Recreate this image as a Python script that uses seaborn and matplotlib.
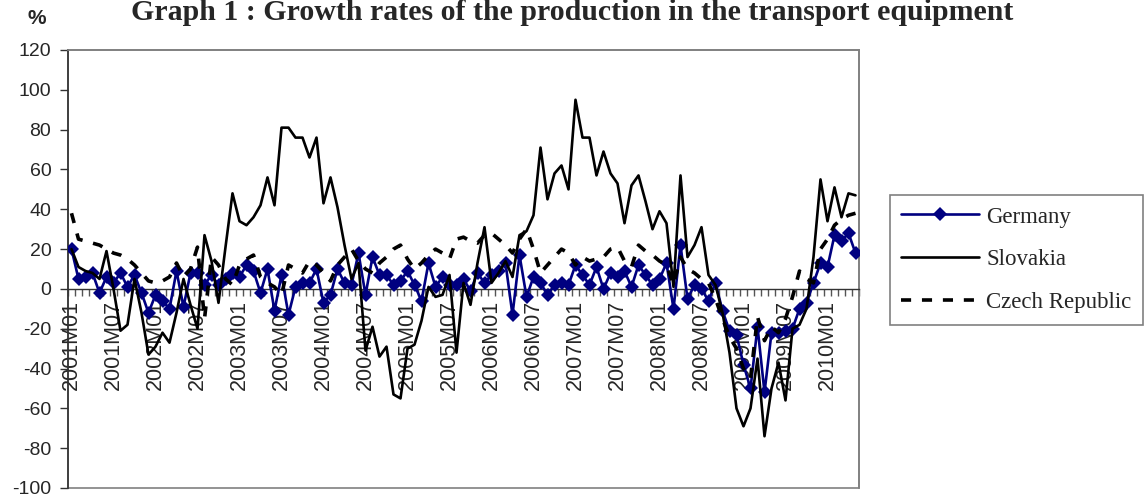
import numpy as np
import pandas as pd
import matplotlib
matplotlib.use("agg")
import matplotlib.pyplot as plt
from matplotlib.patches import Rectangle
import seaborn as sns

# monthly categories 2001M01 .. 2010M05
months = [f"{y}M{m:02d}" for y in range(2001, 2011) for m in range(1, 13)][:113]

germany = [20, 5, 6, 8, -2, 6, 3, 8, 1, 7, -2, -12, -3, -6, -10, 9, -9, 8, 8, 2,
           7, 2, 5, 8, 6, 12, 9, -2, 10, -11, 7, -13, 1, 3, 3, 10, -7, -3, 10, 3,
           2, 18, -3, 16, 7, 7, 2, 4, 9, 2, -6, 13, 1, 6, 2, 2, 5, -1, 8, 3,
           7, 9, 13, -13, 17, -4, 6, 3, -3, 2, 3, 2, 12, 7, 2, 11, 0, 8, 6, 9,
           1, 12, 7, 2, 5, 13, -10, 22, -5, 2, 0, -6, 3, -11, -21, -23, -38, -50, -19, -52,
           -22, -22, -21, -20, -10, -7, 3, 13, 11, 27, 24, 28, 18]

slovakia = [20, 11, 9, 8, 5, 19, 0, -21, -18, 5, -12, -33, -29, -22, -27, -12, 5, -8, -20, 27,
            14, -7, 21, 48, 34, 32, 36, 42, 56, 42, 81, 81, 76, 76, 66, 76, 43, 56, 41, 22,
            5, 13, -31, -19, -34, -29, -53, -55, -30, -28, -16, 1, -4, -3, 7, -32, 3, -8, 13, 31,
            3, 8, 14, 6, 27, 29, 37, 71, 45, 58, 62, 50, 95, 76, 76, 57, 69, 58, 53, 33,
            52, 57, 44, 30, 39, 33, 1, 57, 16, 22, 31, 7, 2, -12, -32, -60, -69, -60, -35, -74,
            -50, -37, -56, -20, -18, -10, 16, 55, 34, 51, 36, 48, 47]

czech = [38, 25, 24, 23, 22, 20, 18, 17, 15, 12, 8, 4, 3, 4, 6, 13, 6, 10, 21, -15,
         16, 12, 5, 2, 12, 15, 17, 6, 3, 1, -3, 12, 10, 8, 14, 12, 8, 4, 12, 16,
         20, 14, 10, 8, 13, 16, 20, 22, 15, 10, 13, 17, 20, 18, 15, 25, 26, 24, 23, 27,
         28, 25, 22, 18, 25, 30, 20, 8, 12, 16, 20, 18, 12, 16, 14, 15, 16, 20, 21, 14,
         11, 22, 19, 17, 14, 12, 2, 16, 10, 8, 5, 3, -5, -15, -24, -30, -40, -45, -14, -26,
         -19, -22, -15, -4, 9, 5, 3, 20, 25, 32, 35, 37, 38]

yticks = list(range(-100, 121, 20))

df = pd.DataFrame({"pos": np.arange(len(months)), "month": months,
                   "Germany": germany, "Slovakia": slovakia, "Czech Republic": czech})

sns.set_style("white")
plt.rcParams["font.family"] = ["Liberation Sans", "DejaVu Sans"]
plt.rcParams["axes.unicode_minus"] = False

fig = plt.figure(figsize=(11.44, 4.99), dpi=100)
ax = fig.add_axes([68 / 1144, 1 - 488 / 499, (859 - 68) / 1144, 438 / 499])

sns.lineplot(data=df, x="pos", y="Germany", ax=ax, color="#000080", linewidth=1.9,
             marker="D", markersize=7.5, markeredgewidth=0, label="Germany", zorder=3)
sns.lineplot(data=df, x="pos", y="Slovakia", ax=ax, color="black", linewidth=1.9,
             label="Slovakia", zorder=4)
sns.lineplot(data=df, x="pos", y="Czech Republic", ax=ax, color="black", linewidth=2.6,
             dashes=False, label="Czech Republic", zorder=5)
ax.lines[-1].set_dashes((2.8, 3.0))

ax.set_xlim(-0.5, len(months) - 0.5)
ax.set_ylim(-100, 120)
ax.set_xlabel("")
ax.set_ylabel("")

# plot area frame
for s in ["top", "right"]:
    ax.spines[s].set_color("#808080")
    ax.spines[s].set_linewidth(1.2)
ax.spines["left"].set_color("#333333")
ax.spines["left"].set_linewidth(1.2)
ax.spines["bottom"].set_position(("data", 0))
ax.spines["bottom"].set_color("#333333")
ax.spines["bottom"].set_linewidth(1.0)
ax.add_patch(Rectangle((0, 0), 1, 1, transform=ax.transAxes, fill=False,
                       edgecolor="#808080", linewidth=1.2, zorder=0.5, clip_on=False))

ax.set_yticks(yticks)
ax.set_yticklabels([str(v) for v in yticks])
ax.tick_params(axis="y", direction="out", length=6, width=1, color="#333333",
               labelsize=14, pad=6, left=True)

label_pos = list(range(0, len(months), 6))
ax.set_xticks(label_pos)
ax.set_xticklabels([months[i] for i in label_pos], rotation=90, va="top", ha="center")
ax.set_xticks(np.arange(-0.5, len(months), 1), minor=True)
ax.tick_params(axis="x", which="major", length=0, labelsize=15.5, pad=8)
ax.tick_params(axis="x", which="minor", direction="out", length=5, width=1,
               color="#555555", bottom=True)

leg = ax.legend(loc="upper left", bbox_to_anchor=(890 / 1144, 1 - 195 / 499),
                bbox_transform=fig.transFigure, frameon=True, fancybox=False,
                edgecolor="#808080", framealpha=1, borderaxespad=0,
                prop={"family": "Liberation Serif", "size": 16.5},
                handlelength=3.4, handletextpad=0.3, labelspacing=0.95,
                borderpad=0.5)
leg.get_frame().set_linewidth(1.2)

fig.text(0.5, 1 - 20 / 499, "Graph 1 : Growth rates of the production in the transport equipment",
         ha="center", va="baseline", fontsize=21.5, fontweight="bold", family="Liberation Serif")
fig.text(37 / 1144, 1 - 19 / 499, "%", ha="center", va="center", fontsize=15,
         fontweight="bold")

fig.savefig("out.png", dpi=100)
